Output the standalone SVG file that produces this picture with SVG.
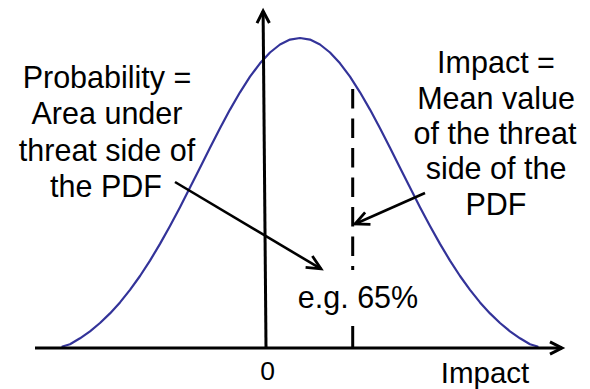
<svg xmlns="http://www.w3.org/2000/svg" width="590" height="389" viewBox="0 0 590 389">
<style>
text{font-family:"Liberation Sans",Arial,sans-serif;fill:#000;text-anchor:middle}
.big{font-size:30.5px}
.ax{stroke:#000;stroke-width:3;fill:none}
.arr{stroke:#000;stroke-width:2.6;fill:none}
.curve{stroke:#333399;stroke-width:2.2;fill:none;stroke-linejoin:round;stroke-linecap:round}
</style>
<defs>
<marker id="axhead" markerUnits="userSpaceOnUse" orient="auto" markerWidth="20" markerHeight="20" viewBox="-16 -10 20 20" refX="0" refY="0" overflow="visible">
<path d="M-12,-6.2 L0,0 L-12,6.2" fill="none" stroke="#000" stroke-width="3" stroke-linejoin="miter"/>
</marker>
<marker id="head" markerUnits="userSpaceOnUse" orient="auto" markerWidth="20" markerHeight="20" viewBox="-18 -10 20 20" refX="0" refY="0" overflow="visible">
<path d="M-14,-6.6 L0,0 L-14,6.6" fill="none" stroke="#000" stroke-width="2.8" stroke-linejoin="miter"/>
</marker>
</defs>

<g id="pdf-curve">
<polyline class="curve" points="62.5,346.5 70,344.2 80,338.3 90,331.3 100,323 110,313.4 120,302.4 130,289.9 140,276 150,260.6 160,243.9 170,226 180,207.2 190,187.6 200,167.7 210,147.8 220,128.3 230,109.6 240,92.3 250,76.7 260,63.3 270,52.5 280,44.5 290,39.6 300,38 310,39.6 320,44.5 330,52.5 340,63.3 350,76.7 360,92.3 370,109.6 380,128.3 390,147.8 400,167.7 410,187.6 420,207.2 430,226 440,243.9 450,260.6 460,276 470,289.9 480,302.4 490,313.4 500,323 510,331.3 520,338.3 530,344.2 537.5,346.5"/>
</g>

<g id="x-axis">
<line class="ax" x1="35" y1="348" x2="562" y2="348" marker-end="url(#axhead)"/>
<text x="485" y="383" font-size="29.5">Impact</text>
</g>

<g id="y-axis">
<line class="ax" x1="266" y1="347" x2="263.1" y2="11" marker-end="url(#axhead)"/>
<text x="267.5" y="380" font-size="26.5">0</text>
</g>

<g id="mean-marker">
<line x1="352.7" y1="89" x2="352.7" y2="270" stroke="#000" stroke-width="3" stroke-dasharray="19.5 10"/>
<line x1="352.7" y1="326" x2="352.7" y2="347" stroke="#000" stroke-width="3"/>
<text class="big" x="358" y="307.5">e.g. 65%</text>
</g>

<g id="probability-label">
<text class="big" x="107" y="87.5">Probability =</text>
<text class="big" x="107" y="124">Area under</text>
<text class="big" x="107" y="160.5">threat side of</text>
<text class="big" x="106" y="197">the PDF</text>
</g>

<g id="impact-label">
<text class="big" x="496" y="73.3">Impact =</text>
<text class="big" x="496" y="108.5">Mean value</text>
<text class="big" x="495" y="143.5">of the threat</text>
<text class="big" x="496" y="179">side of the</text>
<text class="big" x="496" y="215">PDF</text>
</g>

<g id="connectors">
<line class="arr" x1="175" y1="182" x2="321" y2="268.9" marker-end="url(#head)"/>
<line class="arr" x1="425" y1="193" x2="355" y2="224" marker-end="url(#head)"/>
</g>
</svg>
